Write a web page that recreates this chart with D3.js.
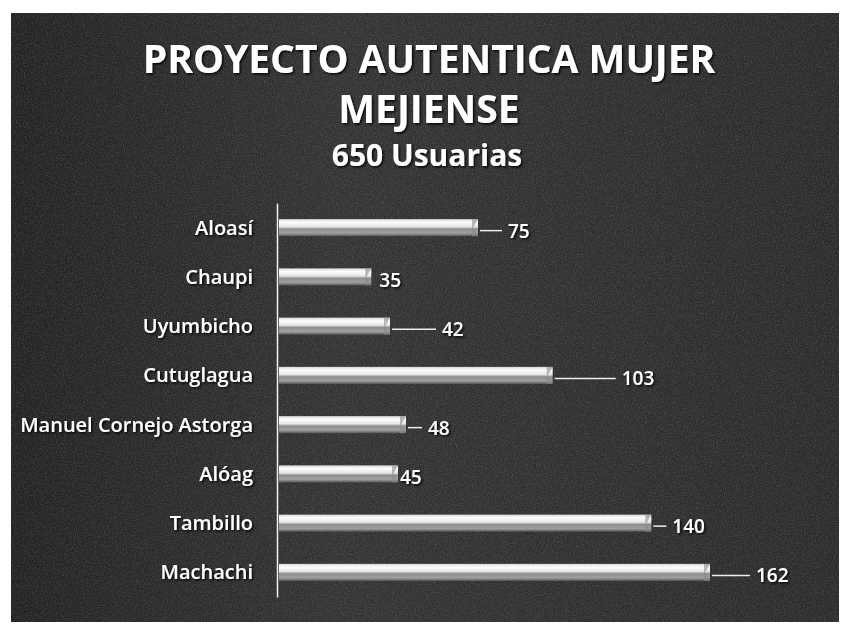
<!DOCTYPE html>
<html>
<head>
<meta charset="utf-8">
<script src="https://cdn.jsdelivr.net/npm/d3@7/dist/d3.min.js"></script>
<style>
  body { margin: 0; background: #fff; }
  svg { display: block; }
  text { font-family: "Open Sans", Lato, sans-serif; fill: #fff; }
</style>
</head>
<body>
<svg id="chart" width="842" height="629"></svg>
<script>
// datos del grafico
var categorias = ["Aloasí", "Chaupi", "Uyumbicho", "Cutuglagua", "Manuel Cornejo Astorga", "Alóag", "Tambillo", "Machachi"];
var usuarias = [75, 35, 42, 103, 48, 45, 140, 162];
var titulo = ["PROYECTO AUTENTICA MUJER", "MEJIENSE"];
var subtitulo = "650 Usuarias";

// distancia de la etiqueta al final de la barra (px) - solo layout
var separacion = [30, 8, 52, 69, 22, 2, 21, 46];

var svg = d3.select("#chart");

var defs = svg.append("defs");

// ruido para el fondo fotocopiado
var ruido = defs.append("filter").attr("id", "ruido").attr("x", 0).attr("y", 0).attr("width", "100%").attr("height", "100%");
ruido.append("feTurbulence").attr("type", "fractalNoise").attr("baseFrequency", 0.9).attr("numOctaves", 2).attr("seed", 4);
ruido.append("feColorMatrix").attr("type", "matrix")
	.attr("values", "0 0 0 0 0.5  0 0 0 0 0.5  0 0 0 0 0.5  0 0 0 0.9 -0.35");

var sombra = defs.append("filter").attr("id", "sombra").attr("x", "-10%").attr("y", "-30%").attr("width", "120%").attr("height", "160%");
sombra.append("feDropShadow").attr("dx", 1.5).attr("dy", 1.5).attr("stdDeviation", 1).attr("flood-color", "#000").attr("flood-opacity", 0.9);

var fondoGrad = defs.append("linearGradient").attr("id", "fondoGrad").attr("x1", 0).attr("x2", 1).attr("y1", 0).attr("y2", 0);
fondoGrad.append("stop").attr("offset", "0%").attr("stop-color", "#222");
fondoGrad.append("stop").attr("offset", "40%").attr("stop-color", "#333");
fondoGrad.append("stop").attr("offset", "100%").attr("stop-color", "#2b2b2b");

var barGrad = defs.append("linearGradient").attr("id", "barGrad").attr("x1", 0).attr("x2", 0).attr("y1", 0).attr("y2", 1);
barGrad.append("stop").attr("offset", "0%").attr("stop-color", "#d8d8d8");
barGrad.append("stop").attr("offset", "18%").attr("stop-color", "#fdfdfd");
barGrad.append("stop").attr("offset", "45%").attr("stop-color", "#e6e6e6");
barGrad.append("stop").attr("offset", "58%").attr("stop-color", "#8e8e8e");
barGrad.append("stop").attr("offset", "82%").attr("stop-color", "#a0a0a0");
barGrad.append("stop").attr("offset", "100%").attr("stop-color", "#5a5a5a");

// fondo
svg.append("rect").attr("x", 11).attr("y", 13).attr("width", 828).attr("height", 609).attr("fill", "url(#fondoGrad)");
svg.append("rect").attr("x", 11).attr("y", 13).attr("width", 828).attr("height", 609).attr("filter", "url(#ruido)").attr("opacity", 0.5);

// titulos
svg.selectAll("text.titulo")
	.data(titulo)
	.enter()
	.append("text")
	.attr("class", "titulo")
	.attr("x", 429)
	.attr("y", function(d, i){ return 73 + i * 50; })
	.attr("text-anchor", "middle")
	.attr("font-size", 39)
	.attr("font-weight", 700)
	.attr("filter", "url(#sombra)")
	.text(function(d){ return d; });

svg.append("text")
	.attr("x", 427)
	.attr("y", 166)
	.attr("text-anchor", "middle")
	.attr("font-size", 30)
	.attr("font-weight", 700)
	.attr("filter", "url(#sombra)")
	.text(subtitulo);

var xScale = d3.scaleLinear().domain([0, 180]).range([278, 758]);
var yScale = d3.scalePoint().domain(categorias).range([203, 597]).padding(0.5);
var barH = 17;

var data = categorias.map(function(c, i){ return {cat: c, val: usuarias[i], gap: separacion[i]}; });

// eje vertical con nombres
var eje = svg.append("g")
	.attr("transform", "translate(277,0)")
	.call(d3.axisLeft(yScale).tickSize(0).tickSizeOuter(0).tickPadding(24));
eje.select(".domain").attr("stroke", "#f2f2f2").attr("stroke-width", 1.5);
eje.selectAll("text")
	.attr("font-size", 20)
	.attr("font-weight", 600)
	.attr("font-family", "'Open Sans', Lato, sans-serif")
	.attr("fill", "#fff")
	.attr("filter", "url(#sombra)");

// barras
var barras = svg.append("g").selectAll("g")
	.data(data)
	.enter()
	.append("g");

barras.append("rect")
	.attr("x", xScale(0) + 1)
	.attr("y", function(d){ return yScale(d.cat) - barH / 2; })
	.attr("width", function(d){ return xScale(d.val) - xScale(0) - 1; })
	.attr("height", barH)
	.attr("fill", "url(#barGrad)");

// tapa biselada al final
barras.append("path")
	.attr("d", function(d){
		var x = xScale(d.val), y = yScale(d.cat) - barH / 2;
		return "M" + (x - 6) + "," + y + "L" + x + "," + y + "L" + (x - 5) + "," + (y + barH * 0.5) + "L" + x + "," + (y + barH) + "L" + (x - 6) + "," + (y + barH) + "Z";
	})
	.attr("fill", "#8a8a8a")
	.attr("opacity", 0.6);

// lineas guia
barras.filter(function(d){ return d.gap > 10; })
	.append("line")
	.attr("x1", function(d){ return xScale(d.val) + 2; })
	.attr("x2", function(d){ return xScale(d.val) + d.gap - 6; })
	.attr("y1", function(d){ return yScale(d.cat) + 3; })
	.attr("y2", function(d){ return yScale(d.cat) + 3; })
	.attr("stroke", "#eee")
	.attr("stroke-width", 1.5);

barras.append("text")
	.attr("x", function(d){ return xScale(d.val) + d.gap; })
	.attr("y", function(d){ return yScale(d.cat) + 10; })
	.attr("font-size", 19)
	.attr("font-weight", 600)
	.attr("filter", "url(#sombra)")
	.text(function(d){ return d.val; });
</script>
</body>
</html>
